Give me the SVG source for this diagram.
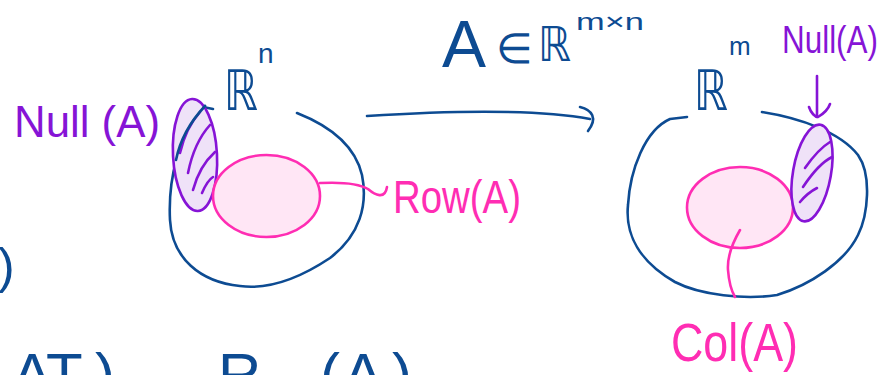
<svg xmlns="http://www.w3.org/2000/svg" width="882" height="375" viewBox="0 0 882 375">
<style>
.bl{fill:none;stroke:#0D4B92;stroke-width:2.6;stroke-linecap:round;stroke-linejoin:round}
.pk{fill:none;stroke:#FF2DB3;stroke-width:2.6;stroke-linecap:round;stroke-linejoin:round}
.pu{fill:none;stroke:#8614D6;stroke-width:2.6;stroke-linecap:round;stroke-linejoin:round}
.pkf{fill:#FFE6F5;stroke:#FF2DB3;stroke-width:2.6}
.puf{fill:#EFE2F8;stroke:#8614D6;stroke-width:2.6}
.tb{fill:#0D4B92;font-family:"Liberation Sans",Arial,sans-serif}
.tbr{fill:#0D4B92;font-family:"DejaVu Sans",sans-serif}
.tp{fill:#FF2DB3;font-family:"Liberation Sans",Arial,sans-serif}
.tu{fill:#8614D6;font-family:"Liberation Sans",Arial,sans-serif}
</style>
<rect width="882" height="375" fill="#ffffff"/>

<g id="domain-space">
<path class="bl" d="M297,113 C330,126 355,145 362,175 C368,205 360,235 330,258 C300,278 270,290 240,286 C200,282 172,258 170,220 C168,180 178,135 205,106"/>
<path class="bl" d="M198,106 L213,109"/>
<text class="tbr" x="224" y="110" font-size="56" textLength="34" lengthAdjust="spacingAndGlyphs">ℝ</text>
<text class="tb" x="258" y="63" font-size="28">n</text>
</g>

<g id="null-left">
<ellipse class="puf" cx="195" cy="155" rx="22" ry="56" transform="rotate(-3 195 155)"/>
<path class="pu" d="M180,153 C184,136 191,122 200,112 M188,173 C192,153 200,136 210,125 M193,190 C197,175 205,161 215,152 M202,193 C205,186 208,180 213,177"/>
<path class="bl" d="M205,106 C190,122 180,140 176,160"/>
<text class="tu" x="14" y="137" font-size="44" textLength="146" lengthAdjust="spacingAndGlyphs">Null (A)</text>
</g>

<g id="row-space">
<ellipse class="pkf" cx="266.5" cy="196" rx="53.5" ry="41"/>
<text class="tp" x="393" y="213" font-size="46" textLength="128" lengthAdjust="spacingAndGlyphs">Row(A)</text>
</g>

<g id="codomain-space">
<path class="bl" d="M762,112 C800,118 840,132 858,155 C872,175 868,215 858,235 C845,262 810,285 777,295 C745,300 700,295 675,282 C640,262 625,235 628,205 C630,170 645,130 670,119 L687,117"/>
<text class="tbr" x="694" y="110" font-size="56" textLength="34" lengthAdjust="spacingAndGlyphs">ℝ</text>
<text class="tb" x="729" y="55" font-size="26">m</text>
</g>

<g id="col-space">
<ellipse class="pkf" cx="740" cy="207.5" rx="53" ry="40.5"/>
<text class="tp" x="671" y="361" font-size="54" textLength="127" lengthAdjust="spacingAndGlyphs">Col(A)</text>
</g>

<g id="null-right">
<ellipse class="puf" cx="812" cy="173" rx="19" ry="49" transform="rotate(10 812 173)"/>
<path class="pu" d="M805,168 C812,158 820,148 830,142 M803,187 C811,175 820,163 832,157 M800,202 C805,196 811,191 817,188"/>
<text class="tu" x="782" y="53" font-size="38" textLength="96" lengthAdjust="spacingAndGlyphs">Null(A)</text>
</g>

<g id="map-label">
<text class="tb" x="442" y="67" font-size="66">A</text>
<text class="tb" x="496" y="63" font-size="42">∈</text>
<text class="tbr" x="538" y="61" font-size="48" textLength="33" lengthAdjust="spacingAndGlyphs">ℝ</text>
<text class="tb" x="576" y="30" font-size="24" textLength="68" lengthAdjust="spacingAndGlyphs">m×n</text>
</g>

<g id="connectors">
<path class="bl" d="M367,116 C430,112 530,108 590,119"/>
<path class="bl" d="M580,107 C592,110 598,118 588,131"/>
<path class="pk" d="M320,183 C340,182 358,183 368,189 C375,195 385,200 387,187"/>
<path class="pk" d="M740,230 C733,242 727,255 728,270 C729,283 732,292 735,297"/>
<path class="pu" d="M817,76 L817,117"/>
<path class="pu" d="M809,107 C811,113 815,117 818,117 C823,114 828,110 830,104"/>
</g>

<g id="fragments">
<text class="tb" x="-2" y="283" font-size="50">)</text>
<text class="tb" y="395" font-size="60"><tspan x="12">A</tspan><tspan x="46">T</tspan><tspan x="95">)</tspan><tspan x="138" font-size="40">=</tspan><tspan x="218">R</tspan><tspan x="264" font-size="36">ow</tspan><tspan x="320">(</tspan><tspan x="343">A</tspan><tspan x="392">)</tspan></text>
</g>
</svg>
